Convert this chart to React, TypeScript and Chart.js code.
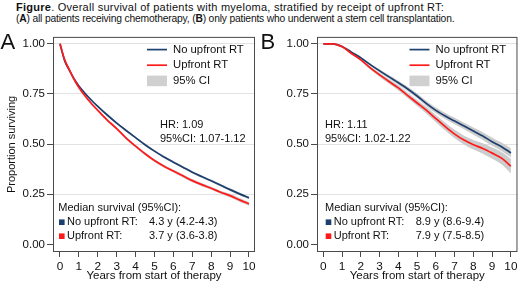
import React, { useEffect, useRef } from 'react';
import { Chart, registerables } from 'chart.js';

Chart.register(...registerables);

const FONT = '"Liberation Sans", Arial, Helvetica, sans-serif';
const NAVY = '#1b3f6f';
const RED = '#ff1a1a';
const BAND = '#cccccc';
const LEGEND_BOX = '#d0d0d0';
const TEXT = '#111111';
const FRAME = '#4a4a4a';

// ---------- data ----------
const seriesNames = ['No upfront RT', 'Upfront RT'];
const ciLabel = '95% CI';
const medianTitle = 'Median survival (95%CI):';
const xTicks = [0, 1, 2, 3, 4, 5, 6, 7, 8, 9, 10];
const yTicks = [0, 0.25, 0.5, 0.75, 1];

// Panel A: all patients receiving chemotherapy
const timesA = [0, 0.25, 0.5, 0.75, 1, 1.5, 2, 2.5, 3, 3.5, 4, 4.5, 5, 5.5, 6, 6.5, 7, 7.5, 8, 8.5, 9, 9.5, 10];
const noRtA = [1, 0.915, 0.868, 0.825, 0.79, 0.735, 0.688, 0.645, 0.605, 0.568, 0.532, 0.497, 0.465, 0.436, 0.41, 0.385, 0.36, 0.338, 0.317, 0.295, 0.273, 0.252, 0.232];
const rtA = [1, 0.92, 0.87, 0.822, 0.782, 0.72, 0.668, 0.62, 0.577, 0.53, 0.49, 0.452, 0.418, 0.39, 0.366, 0.342, 0.318, 0.298, 0.28, 0.26, 0.243, 0.222, 0.202];
const noRtCiA = [0, 0.003, 0.004, 0.004, 0.004, 0.004, 0.005, 0.005, 0.005, 0.005, 0.005, 0.005, 0.005, 0.006, 0.006, 0.006, 0.006, 0.006, 0.006, 0.006, 0.007, 0.007, 0.007];
const rtCiA = [0, 0.004, 0.005, 0.005, 0.005, 0.006, 0.006, 0.006, 0.006, 0.007, 0.007, 0.007, 0.007, 0.007, 0.007, 0.008, 0.008, 0.008, 0.008, 0.008, 0.009, 0.009, 0.009];
const hrA = ['HR: 1.09', '95%CI: 1.07-1.12'];
const medianA = ['4.3 y (4.2-4.3)', '3.7 y (3.6-3.8)'];

// Panel B: only patients who underwent a stem cell transplantation
const timesB = [0, 0.5, 1, 1.5, 2, 2.5, 3, 3.5, 4, 4.5, 5, 5.5, 6, 6.5, 7, 7.5, 8, 8.5, 9, 9.5, 10];
const noRtB = [1, 1, 0.987, 0.958, 0.93, 0.896, 0.865, 0.835, 0.806, 0.775, 0.74, 0.702, 0.668, 0.64, 0.615, 0.59, 0.565, 0.54, 0.512, 0.487, 0.456];
const rtB = [1, 1, 0.985, 0.952, 0.92, 0.88, 0.845, 0.812, 0.78, 0.742, 0.705, 0.668, 0.627, 0.587, 0.55, 0.52, 0.497, 0.478, 0.455, 0.43, 0.39];
const noRtCiB = [0, 0, 0.002, 0.004, 0.005, 0.006, 0.008, 0.009, 0.01, 0.011, 0.012, 0.013, 0.014, 0.015, 0.016, 0.016, 0.018, 0.019, 0.02, 0.021, 0.023];
const rtCiB = [0, 0, 0.003, 0.005, 0.007, 0.008, 0.01, 0.011, 0.013, 0.014, 0.015, 0.017, 0.018, 0.019, 0.021, 0.022, 0.024, 0.026, 0.028, 0.031, 0.036];
const hrB = ['HR: 1.11', '95%CI: 1.02-1.22'];
const medianB = ['8.9 y (8.6-9.4)', '7.9 y (7.5-8.5)'];

type PanelCfg = {
  letter: string;
  times: number[];
  noRt: number[];
  rt: number[];
  noRtCi: number[];
  rtCi: number[];
  hr: string[];
  median: string[];
  xMin: number;
  xMax: number;
  axisWidth: number;
  padRight: number;
  yTitle: boolean;
  hrDx: number;
  medDx: number;
};

const panels: PanelCfg[] = [
  {
    letter: 'A', times: timesA, noRt: noRtA, rt: rtA, noRtCi: noRtCiA, rtCi: rtCiA,
    hr: hrA, median: medianA, xMin: -0.37, xMax: 10.32, axisWidth: 53, padRight: 5,
    yTitle: true, hrDx: 107, medDx: 5.3,
  },
  {
    letter: 'B', times: timesB, noRt: noRtB, rt: rtB, noRtCi: noRtCiB, rtCi: rtCiB,
    hr: hrB, median: medianB, xMin: -0.34, xMax: 10.35, axisWidth: 57, padRight: 1,
    yTitle: false, hrDx: 8, medDx: 8,
  },
];

function pts(t: number[], v: number[], d?: number[], sign = 0) {
  return t.map((x, i) => ({ x, y: v[i] + (d ? sign * d[i] : 0) }));
}

function makeChart(canvas: HTMLCanvasElement, p: PanelCfg) {
  const line = (label: string, data: any[], color: string) => ({
    label, data, borderColor: color, borderWidth: 1.7, pointRadius: 0,
    cubicInterpolationMode: 'monotone' as const, fill: false, order: 0,
  });
  const band = (label: string, data: any[], fill: any) => ({
    label, data, borderWidth: 0, borderColor: 'rgba(0,0,0,0)', backgroundColor: BAND,
    pointRadius: 0, cubicInterpolationMode: 'monotone' as const, fill, order: 1,
  });

  const annot = {
    id: 'annot',
    afterDraw(chart: any) {
      const { ctx, chartArea: a } = chart;
      ctx.save();
      // frame
      ctx.strokeStyle = FRAME;
      ctx.lineWidth = 1;
      ctx.strokeRect(a.left + 0.5, a.top + 0.5, a.right - a.left - 1, a.bottom - a.top - 1);

      // panel letter
      ctx.fillStyle = TEXT;
      ctx.font = `22px ${FONT}`;
      ctx.textBaseline = 'alphabetic';
      ctx.textAlign = 'left';
      ctx.fillText(p.letter, 0.5, 20.5);

      // legend
      ctx.font = `11.3px ${FONT}`;
      ctx.textBaseline = 'middle';
      const lx = a.right - 108;
      [NAVY, RED].forEach((c, i) => {
        const y = a.top + 12.7 + i * 15.6;
        ctx.strokeStyle = c;
        ctx.lineWidth = 1.7;
        ctx.beginPath();
        ctx.moveTo(lx, y);
        ctx.lineTo(lx + 20, y);
        ctx.stroke();
        ctx.fillStyle = TEXT;
        ctx.fillText(seriesNames[i], lx + 26, y);
      });
      ctx.fillStyle = LEGEND_BOX;
      ctx.fillRect(lx, a.top + 38.7, 20, 10.6);
      ctx.fillStyle = TEXT;
      ctx.fillText(ciLabel, lx + 26, a.top + 44);

      // HR
      ctx.font = `11px ${FONT}`;
      ctx.fillText(p.hr[0], a.left + p.hrDx, a.top + 87.7);
      ctx.fillText(p.hr[1], a.left + p.hrDx, a.top + 102);

      // median survival
      const mx = a.left + p.medDx;
      ctx.fillText(medianTitle, mx, a.top + 171);
      [NAVY, RED].forEach((c, i) => {
        const y = a.top + 185.3 + i * 14;
        ctx.fillStyle = c;
        ctx.fillRect(mx + 0.7, y - 2.8, 5.6, 5.6);
        ctx.fillStyle = TEXT;
        ctx.fillText(seriesNames[i] + ':', mx + 8.7, y);
        ctx.fillText(p.median[i], mx + 90.7, y);
      });
      ctx.restore();
    },
  };

  return new Chart(canvas, {
    type: 'line',
    data: {
      datasets: [
        line(seriesNames[1], pts(p.times, p.rt), RED),
        line(seriesNames[0], pts(p.times, p.noRt), NAVY),
        band('no-lo', pts(p.times, p.noRt, p.noRtCi, -1), false),
        band('no-hi', pts(p.times, p.noRt, p.noRtCi, 1), '-1'),
        band('rt-lo', pts(p.times, p.rt, p.rtCi, -1), false),
        band('rt-hi', pts(p.times, p.rt, p.rtCi, 1), '-1'),
      ] as any,
    },
    options: {
      animation: false,
      responsive: false,
      maintainAspectRatio: false,
      events: [],
      layout: { padding: { left: 0, right: p.padRight, top: 6, bottom: 0 } },
      plugins: { legend: { display: false }, tooltip: { enabled: false } },
      scales: {
        x: {
          type: 'linear',
          min: p.xMin,
          max: p.xMax,
          afterBuildTicks: (s: any) => { s.ticks = xTicks.map((v) => ({ value: v })); },
          afterFit: (s: any) => { s.height = 31; },
          grid: { drawOnChartArea: false, drawTicks: true, tickLength: 5, tickColor: FRAME },
          border: { display: false },
          ticks: {
            font: { size: 11.8, family: FONT }, color: TEXT, padding: 2.5,
            maxRotation: 0, autoSkip: false, callback: (v: any) => String(v),
          },
          title: {
            display: true, text: 'Years from start of therapy',
            font: { size: 11.5, family: FONT }, color: TEXT, padding: { top: 0, bottom: 0.5 },
          },
        },
        y: {
          type: 'linear',
          min: -0.0379,
          max: 1.0344,
          afterBuildTicks: (s: any) => { s.ticks = yTicks.map((v) => ({ value: v })); },
          afterFit: (s: any) => { s.width = p.axisWidth; },
          grid: {
            color: (c: any) => (c.tick && c.tick.value === 0 ? 'rgba(0,0,0,0)' : '#e2e2e2'),
            tickColor: FRAME, tickLength: 6, drawTicks: true,
          },
          border: { display: false },
          ticks: {
            font: { size: 11.5, family: FONT }, color: TEXT, padding: 2,
            callback: (v: any) => Number(v).toFixed(2),
          },
          title: {
            display: p.yTitle, text: 'Proportion surviving',
            font: { size: 11, family: FONT }, color: TEXT, padding: { top: 5, bottom: 0 },
          },
        },
      },
    } as any,
    plugins: [annot],
  });
}

export default function App() {
  const refA = useRef<HTMLCanvasElement>(null);
  const refB = useRef<HTMLCanvasElement>(null);

  useEffect(() => {
    Chart.defaults.font.family = FONT;
    const charts: Chart[] = [];
    if (refA.current) charts.push(makeChart(refA.current, panels[0]));
    if (refB.current) charts.push(makeChart(refB.current, panels[1]));
    return () => charts.forEach((c) => c.destroy());
  }, []);

  const canvasStyle = (left: number): React.CSSProperties => ({
    position: 'absolute', left, top: 28, width: 260, height: 255, display: 'block',
  });

  return (
    <div style={{ position: 'fixed', left: 0, top: 0, width: 520, height: 283, background: '#fff', overflow: 'hidden' }}>
      <div style={{
        position: 'absolute', left: 16, top: 1, fontFamily: FONT, lineHeight: '12px',
        color: TEXT, whiteSpace: 'nowrap',
      }}>
        <div style={{ fontSize: '11px', letterSpacing: '0.25px' }}><b>Figure</b>. Overall survival of patients with myeloma, stratified by receipt of upfront RT:</div>
        <div style={{ fontSize: '10.3px', letterSpacing: '-0.18px' }}>(<b>A</b>) all patients receiving chemotherapy, (<b>B</b>) only patients who underwent a stem cell transplantation.</div>
      </div>
      <canvas ref={refA} width={260} height={255} style={canvasStyle(0)} />
      <canvas ref={refB} width={260} height={255} style={canvasStyle(260)} />
    </div>
  );
}
